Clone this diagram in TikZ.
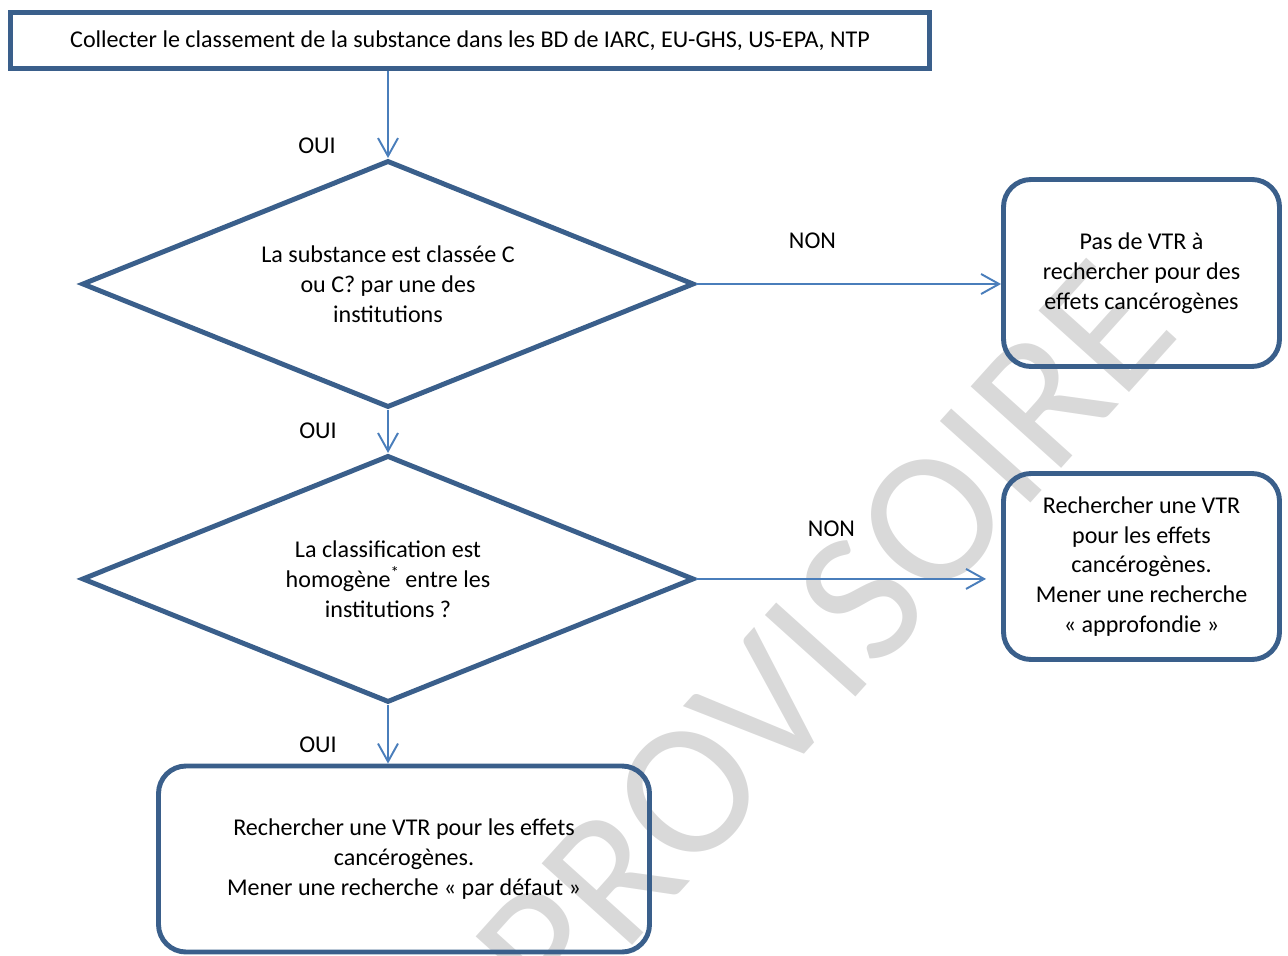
\documentclass[tikz,border=0pt]{standalone}
\usepackage{fontspec}
\setmainfont{Carlito}
\usetikzlibrary{shapes.geometric,arrows.meta,positioning}
\definecolor{boxblue}{RGB}{58,95,139}
\definecolor{arrowblue}{RGB}{74,126,187}
\definecolor{markgray}{RGB}{217,217,217}

\begin{document}
\begin{tikzpicture}[
    font=\fontsize{13.7}{17}\selectfont,
    startbox/.style={rectangle, draw=boxblue, line width=2.8pt, minimum width=18.38cm, minimum height=1.12cm},
    decision/.style={diamond, draw=boxblue, line width=2.8pt, aspect=2.48, inner sep=0pt, minimum width=12.24cm, minimum height=4.94cm, align=center},
    result/.style={rectangle, rounded corners=0.55cm, draw=boxblue, line width=2.8pt, align=center},
    answer/.style={inner sep=1pt},
    arrow/.style={-{Straight Barb[length=3.6mm,width=4mm]}, draw=arrowblue, line width=1.1pt}
]

\useasboundingbox (0,0) rectangle (25.76,-19.12);

% Watermark
\node[text=markgray, rotate=48, font=\fontsize{108}{108}\selectfont] (mark) at (16.5,-12.8) {PROVISOIRE};

% Collect
\node[startbox] (collect) at (9.4,-0.81) {Collecter le classement de la substance dans les BD de IARC, EU-GHS, US-EPA, NTP};

% First question
\node[decision] (classed) at (7.76,-5.68) {La substance est classée C\\ou C? par une des\\institutions};

% Second question
\node[decision, below=0.86cm of classed] (homog) {La classification est\\homogène\textsuperscript{*} entre les\\institutions ?};

% Results
\node[result, minimum width=5.52cm, minimum height=3.74cm] (no_vtr) at (22.83,-5.46) {Pas de VTR à\\rechercher pour des\\effets cancérogènes};

\node[result, minimum width=5.52cm, minimum height=3.72cm] (deep_search) at (22.83,-11.33) {Rechercher une VTR\\pour les effets\\cancérogènes.\\Mener une recherche\\« approfondie »};

\node[result, minimum width=9.82cm, minimum height=3.72cm] (default_search) at (8.08,-17.18) {Rechercher une VTR pour les effets\\cancérogènes.\\Mener une recherche « par défaut »};

% Answers
\node[answer] (oui_a) at ([xshift=-1.42cm, yshift=0.24cm]classed.north) {OUI};
\node[answer] (non_a) at ([xshift=2.32cm, yshift=0.86cm]classed.east) {NON};
\node[answer] (oui_b) at ([xshift=-1.4cm, yshift=0.44cm]homog.north) {OUI};
\node[answer] (non_b) at ([xshift=2.7cm, yshift=1.0cm]homog.east) {NON};
\node[answer] (oui_c) at ([xshift=-1.4cm, yshift=-0.8cm]homog.south) {OUI};

% Flow arrows
\draw[arrow] (classed.north |- collect.south) -- (classed.north);
\draw[arrow] (classed.east) -- (classed.east -| no_vtr.west);
\draw[arrow] (classed.south) -- (homog.north);
\draw[arrow, shorten >=0.3cm] (homog.east) -- (homog.east -| deep_search.west);
\draw[arrow] (homog.south) -- (homog.south |- default_search.north);

\end{tikzpicture}
\end{document}
